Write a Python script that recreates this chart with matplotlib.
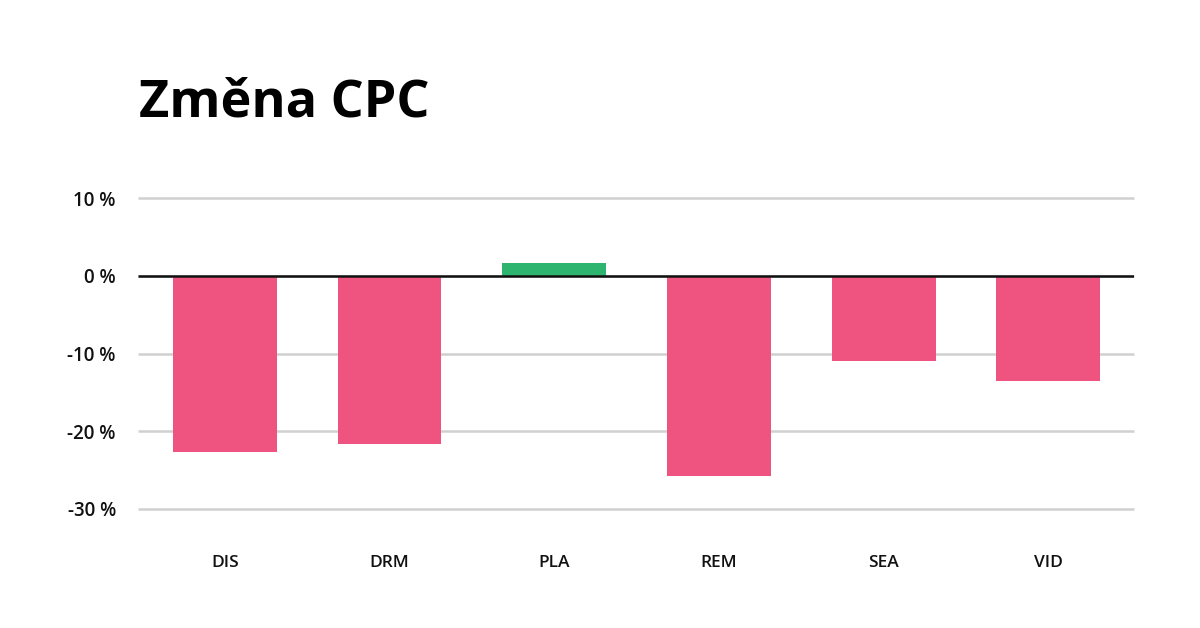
import matplotlib
matplotlib.use('Agg')
import matplotlib.pyplot as plt

# Data
categories = ['DIS', 'DRM', 'PLA', 'REM', 'SEA', 'VID']
values = [-22.7, -21.6, 1.7, -25.7, -11.0, -13.5]
yticks = [-30, -20, -10, 0, 10]

pink = '#EF5480'
green = '#2DB56F'

plt.rcParams['font.family'] = ['Open Sans', 'DejaVu Sans']

fig = plt.figure(figsize=(12, 6.28), dpi=100)
ax = fig.add_axes([0.115, 0.1895, 0.83, 0.4952])

colors = [green if v >= 0 else pink for v in values]
x = list(range(len(categories)))
ax.bar(x, values, width=0.63, color=colors, zorder=3)

ax.set_xlim(-0.527, 5.52)
ax.set_ylim(-30, 10)
ax.set_yticks(yticks)
ax.set_yticklabels([f'{t} %' for t in yticks], fontsize=13.5, color='#111111', fontweight='semibold')
ax.set_xticks(x)
ax.set_xticklabels(categories, fontsize=12.5, color='#111111', fontweight='semibold')

ax.grid(axis='y', color='#d0d0d0', linewidth=1.8, zorder=0)
for gl in ax.get_ygridlines():
    gl.set_clip_on(False)
    gl.set_solid_capstyle('butt')
ax.axhline(0, color='#111111', linewidth=1.8, zorder=4, solid_capstyle='butt')

for s in ax.spines.values():
    s.set_visible(False)
ax.tick_params(axis='both', length=0)
ax.tick_params(axis='x', pad=33)
ax.tick_params(axis='y', pad=16)

fig.text(0.116, 0.815, 'Změna CPC', fontsize=37.5, fontweight='bold', color='#000000')

fig.savefig('out.png', dpi=100, facecolor='white')
